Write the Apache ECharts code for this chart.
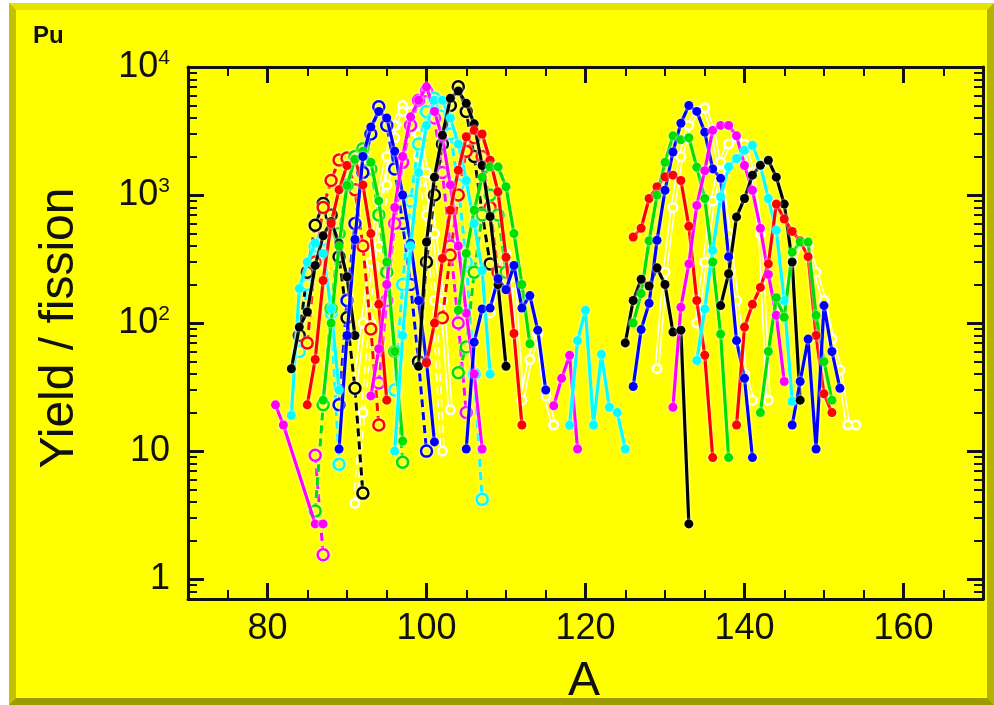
<!DOCTYPE html>
<html><head><meta charset="utf-8">
<script src="https://cdn.jsdelivr.net/npm/echarts@6/dist/echarts.min.js"></script>
<style>
html,body{margin:0;padding:0;background:#fff;width:994px;height:705px;overflow:hidden;}
#frame{position:absolute;left:9px;top:3px;width:985px;height:702px;box-sizing:border-box;background:#ffff00;
border-style:solid;border-width:7px;border-top-color:#e4e400;border-left-color:#c2c200;border-right-color:#b4b400;border-bottom-color:#9c9c00;}
#chart{position:absolute;left:0;top:0;width:994px;height:705px;}
</style></head>
<body><div id="frame"></div><div id="chart"></div>
<script>
// ---------- tick values ----------
const xMajor = [80, 100, 120, 140, 160];
const xMinor = [75, 85, 90, 95, 105, 110, 115, 125, 130, 135, 145, 150, 155, 165];
const yMajor = [1, 10, 100, 1000, 10000];
const yMinor = [0.8, 0.9, 2, 3, 4, 5, 6, 7, 8, 9, 20, 30, 40, 50, 60, 70, 80, 90,
  200, 300, 400, 500, 600, 700, 800, 900, 2000, 3000, 4000, 5000, 6000, 7000, 8000, 9000];

// ---------- light fragments: [A, yield] ----------
const ge_s = [[81,23],[82,16],[86,2.7],[87,2.7]];
const ge_d = [[86,9.3],[87,1.55]];
const as_s = [[83,19],[84,186],[85,300],[86,420],[87,350],[88,130],[89,30]];
const as_d = [[84,60],[85,200],[86,400],[87,450],[88,120],[89,7.9]];
const se_s = [[83,44],[84,93],[85,122],[86,282],[87,480],[88,620],[89,420],[90,230],[91,80]];
const se_d = [[84,80],[85,250],[86,580],[87,860],[88,700],[89,330],[90,110],[91,31],[92,4.7]];
const br_s = [[85,23],[86,52],[87,215],[88,600],[89,1100],[90,1700],[91,1900],[92,1200],[93,500],[94,140],[95,25]];
const br_d = [[85,70],[86,300],[87,800],[88,1300],[89,1880],[90,1950],[91,1100],[92,400],[93,90],[94,16]];
const kr_s = [[87,25],[88,100],[89,400],[90,1190],[91,1900],[92,2200],[93,1800],[94,900],[95,300],[96,60],[97,12]];
const kr_d = [[86,3.4],[87,23],[88,130],[89,500],[90,1200],[91,2000],[92,2300],[93,1600],[94,700],[95,250],[96,60],[97,8.2]];
const rb_s = [[89,10.4],[90,80],[91,450],[92,2000],[93,3400],[94,4500],[95,4000],[96,2200],[97,1000],[98,420],[99,150],[100,50],[101,11.8]];
const rb_d = [[89,23],[90,150],[91,600],[92,1500],[93,3000],[94,4900],[95,3500],[96,1600],[97,600],[98,200],[99,50],[100,10]];
const sr_s = [[91,30],[92,100],[93,300],[94,900],[95,2000],[96,3500],[97,5000],[98,4500],[99,3000],[100,1500],[101,500],[102,150],[103,21]];
const sr_d = [[91,3.9],[92,20],[93,100],[94,400],[95,1200],[96,2800],[97,4500],[98,4000],[99,2000],[100,700],[101,150],[102,10]];
const y_s  = [[93,27],[94,63],[95,200],[96,800],[97,2000],[98,4080],[99,5500],[100,7000],[101,4500],[102,2800],[103,1200],[104,400],[105,120],[106,40],[107,10.4]];
const y_d  = [[94,34],[95,150],[96,600],[97,1800],[98,3500],[99,5500],[100,6500],[101,4000],[102,1500],[103,400],[104,100],[105,20]];
const zr_s = [[96,10],[97,80],[98,400],[99,1500],[100,3500],[101,5500],[102,5500],[103,4000],[104,2500],[105,1300],[106,600],[107,257],[108,40]];
const zr_d = [[96,30],[97,200],[98,900],[99,2500],[100,4500],[101,5700],[102,5000],[103,3000],[104,1200],[105,300],[106,40],[107,4.2]];
const nb_s = [[99,46],[100,430],[101,1380],[102,2930],[103,5690],[104,6500],[105,5200],[106,3600],[107,1700],[108,680],[109,200],[110,46]];
const nb_d = [[99,50],[100,300],[101,1000],[102,2500],[103,5000],[104,7000],[105,4500],[106,2000],[107,720],[108,290]];
const mo_s = [[100,49],[101,100],[102,320],[103,760],[104,1560],[105,2850],[106,3200],[107,3000],[108,1870],[109,1060],[110,327],[111,83],[112,16]];
const mo_d = [[102,110],[103,340],[104,1000],[105,2200],[106,2800],[107,2000],[108,800],[109,250]];
const tc_s = [[104,126],[105,350],[106,760],[107,1380],[108,1660],[109,1660],[110,1160],[111,500],[112,200],[113,69]];
const tc_d = [[104,41],[105,65],[106,250],[107,700],[108,1000],[109,700],[110,250]];
const ru_s = [[105,10.4],[106,71],[107,129],[108,131],[109,222],[110,182],[111,282],[112,131],[113,164],[114,88],[115,30]];
const rh_s = [[108,120],[109,250],[110,350],[111,200],[112,25],[113,52],[114,82],[115,27],[116,16]];
const pd_s = [[116,22.6],[117,37],[118,56],[119,10.4]];
const ag_s = [[118,16],[119,73],[120,126],[121,16],[122,57],[123,22],[124,20],[125,10.4]];

// ---------- heavy fragments: [A, yield] ----------
const cd_s = [[125,70],[126,150],[127,220],[128,195],[129,270],[130,200],[131,85],[132,88],[133,2.7]];
const in_s = [[126,470],[127,550],[128,940],[129,1160],[130,1390],[131,1430],[132,1300],[133,570],[134,150],[135,56],[136,8.9]];
const sn_s = [[126,100],[127,170],[128,440],[129,1000],[130,1800],[131,2900],[132,2700],[133,2800],[134,1650],[135,940],[136,300],[137,82],[138,8.9]];
const sb_s = [[126,32],[127,89],[128,143],[129,443],[130,1090],[131,2170],[132,3640],[133,5000],[134,4500],[135,3100],[136,1600],[137,1350],[138,330],[139,73],[140,37],[141,8.9]];
const te_s = [[129,44],[130,250],[131,800],[132,2000],[133,3500],[134,4500],[135,4800],[136,3200],[137,1500],[138,500],[139,150],[140,40],[141,25]];
const te_b = [[134,100],[135,300],[136,900],[137,1800],[138,2500],[139,2800],[140,2500],[141,1500],[142,500],[143,25]];
const i_s  = [[131,22],[132,133],[133,290],[134,830],[135,1550],[136,3200],[137,3500],[138,3500],[139,2900],[140,1700],[141,1090],[142,550],[143,240],[144,115],[145,35]];
const xe_s = [[134,51],[135,129],[136,370],[137,970],[138,1660],[139,1930],[140,2240],[141,2450],[142,1700],[143,940],[144,530],[145,150],[146,24.5]];
const cs_s = [[137,137],[138,243],[139,675],[140,940],[141,1430],[142,1710],[143,1870],[144,1380],[145,850],[146,300],[147,25]];
const ba_s = [[139,16],[140,93],[141,140],[142,190],[143,290],[144,850],[145,650],[146,520],[147,440],[148,330],[149,80],[150,28],[151,20]];
const la_s = [[142,20],[143,60],[144,158],[145,111],[146,358],[147,429],[148,429],[149,115],[150,50],[151,25]];
const ce_s = [[146,16],[147,35],[148,75],[149,10.4],[150,137],[151,60],[152,31]];
const pr_s = [[145,150],[146,300],[147,420],[148,400],[149,250],[150,150],[151,75],[152,43],[153,16],[154,16]];

// ---------- styling ----------
const K='#000000', R='#ff0000', G='#00e000', B='#0000ff', C='#00ffff', M='#ff00ff', W='white';
const curves = [
  [ge_s,M,'s'],[ge_d,M,'d'],[as_s,C,'s'],[as_d,C,'d'],[se_s,K,'s'],[se_d,K,'d'],
  [br_s,R,'s'],[br_d,R,'d'],[kr_s,G,'s'],[kr_d,G,'d'],[rb_s,B,'s'],[rb_d,B,'d'],
  [sr_s,W,'s'],[sr_d,W,'d'],[y_s,M,'s'],[y_d,M,'d'],[zr_s,C,'s'],[zr_d,C,'d'],
  [nb_s,K,'s'],[nb_d,K,'d'],[mo_s,R,'s'],[mo_d,R,'d'],[tc_s,G,'s'],[tc_d,G,'d'],
  [ru_s,B,'s'],[rh_s,W,'s'],[pd_s,M,'s'],[ag_s,C,'s'],
  [cd_s,K,'s'],[in_s,R,'s'],[sn_s,G,'s'],[sb_s,B,'s'],[te_s,W,'s'],[te_b,W,'s'],
  [i_s,M,'s'],[xe_s,C,'s'],[cs_s,K,'s'],[ba_s,R,'s'],[la_s,G,'s'],[ce_s,B,'s'],[pr_s,W,'s']
];
const DASH=[8,5];
const HALO='rgba(255,255,255,1)';
const series=[];
curves.forEach(function(c,i){
  const data=c[0], col=c[1], st=c[2];
  if(col===W){
    series.push({type:'line',data:data,z:3,symbol:'circle',symbolSize:11,silent:true,
      lineStyle:{color:'#ffffff',width:5,type:st==='d'?DASH:'solid'},
      itemStyle:{color:'#ffffff'}});
    series.push({type:'line',data:data,z:3,symbol:'circle',symbolSize:6,silent:true,
      lineStyle:{color:'#ffff00',width:2,type:st==='d'?DASH:'solid'},
      itemStyle:{color:'#ffff00'}});
  } else if(st==='d'){
    series.push({type:'line',data:data,z:4,symbol:'circle',symbolSize:11,silent:true,
      lineStyle:{color:col,width:3,type:DASH,shadowColor:HALO,shadowBlur:3},
      itemStyle:{color:'#ffff00',borderColor:col,borderWidth:2.5,shadowColor:HALO,shadowBlur:3}});
  } else {
    series.push({type:'line',data:data,z:5,symbol:'circle',symbolSize:9,silent:true,
      lineStyle:{color:col,width:3.2,shadowColor:HALO,shadowBlur:3},
      itemStyle:{color:col,shadowColor:HALO,shadowBlur:3}});
  }
});

const FONT='"Liberation Sans", Arial, Helvetica, sans-serif';
function xAx(pos, vals, len, w, line, labels){
  return {type:'value',min:70,max:170,position:pos,
    axisLine:{show:line,onZero:false,lineStyle:{color:'#111',width:3}},
    axisTick:{show:true,inside:true,length:len,customValues:vals,lineStyle:{color:'#111',width:w}},
    axisLabel:{show:labels,customValues:vals,margin:12,fontSize:36,fontFamily:FONT,color:'#111'},
    splitLine:{show:false}};
}
function yAx(pos, vals, len, w, line, labels){
  return {type:'log',logBase:10,min:0.7,max:10000,position:pos,
    axisLine:{show:line,onZero:false,lineStyle:{color:'#111',width:3}},
    axisTick:{show:true,inside:true,length:len,customValues:vals,lineStyle:{color:'#111',width:w}},
    axisLabel:{show:labels,customValues:vals,margin:18,color:'#111',
      formatter:function(v){const e=Math.round(Math.log10(v));
        if(e===0) return '{b|1}'; if(e===1) return '{b|10}'; return '{b|10}{s|'+e+'}';},
      rich:{b:{fontSize:36,fontFamily:FONT,color:'#111',lineHeight:38},
            s:{fontSize:21,fontFamily:FONT,color:'#111',verticalAlign:'top',lineHeight:22}}},
    splitLine:{show:false},minorTick:{show:false}};
}

const chart=echarts.init(document.getElementById('chart'),null,{renderer:'canvas'});
chart.setOption({
  animation:false,
  backgroundColor:'transparent',
  grid:{left:188,right:11,top:67,bottom:106,containLabel:false,outerBoundsMode:'none'},
  xAxis:[xAx('bottom',xMajor,16,3,true,true),xAx('bottom',xMinor,9,2,false,false),
         xAx('top',xMajor,16,3,true,false),xAx('top',xMinor,9,2,false,false)],
  yAxis:[yAx('left',yMajor,16,3,true,true),yAx('left',yMinor,9,2,false,false),
         yAx('right',yMajor,16,3,true,false),yAx('right',yMinor,9,2,false,false)],
  graphic:[
    {type:'text',left:33,top:24,style:{text:'Pu',font:'bold 24px '+FONT,fill:'#111'}},
    {type:'text',x:60,y:328,rotation:Math.PI/2,style:{text:'Yield / fission',font:'48px '+FONT,fill:'#111',textAlign:'center',textVerticalAlign:'middle'}},
    {type:'text',x:584,y:682,style:{text:'A',font:'48px '+FONT,fill:'#111',textAlign:'center',textVerticalAlign:'middle'}}
  ],
  series:series
});
</script></body></html>
